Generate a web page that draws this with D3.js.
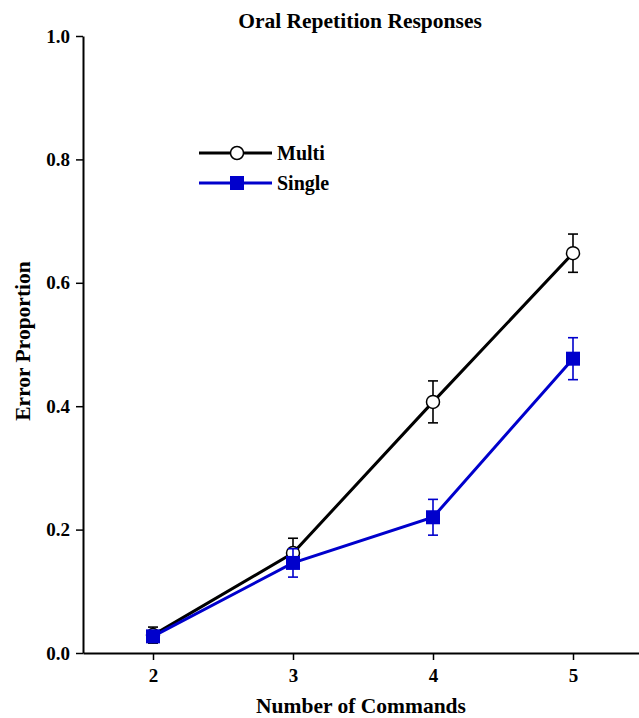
<!DOCTYPE html>
<html>
<head>
<meta charset="utf-8">
<script src="https://cdn.jsdelivr.net/npm/d3@7"></script>
<style>
  body { margin: 0; background: #fff; }
  svg text { font-family: "Liberation Serif", "Times New Roman", serif; font-weight: bold; fill: #000; }
</style>
</head>
<body>
<div id="chart"></div>
<script>
const commands = [2, 3, 4, 5];
const multiMean = [0.029, 0.162, 0.407, 0.648];
const multiErr = [0.013, 0.024, 0.034, 0.031];
const singleMean = [0.027, 0.146, 0.220, 0.477];
const singleErr = [0.008, 0.023, 0.029, 0.034];
const yTicks = [0.0, 0.2, 0.4, 0.6, 0.8, 1.0];

const color = { multi: '#000000', single: '#0000cc' };

const W = 639, H = 718;
const svg = d3.select('#chart').append('svg').attr('width', W).attr('height', H);

const x = d3.scaleLinear().domain([1.5, 5.5]).range([83, 643]);
const y = d3.scaleLinear().domain([0, 1]).range([653, 36]);

// axes
const xAxis = d3.axisBottom(x).tickValues(commands).tickFormat(d3.format('d')).tickSize(7).tickSizeOuter(0).tickPadding(9);
const yAxis = d3.axisLeft(y).tickValues(yTicks).tickFormat(d3.format('.1f')).tickSize(7).tickSizeOuter(0).tickPadding(6);

const xg = svg.append('g').attr('transform', `translate(0,${y(0)})`).call(xAxis);
const yg = svg.append('g').attr('transform', `translate(${x(1.5)},0)`).call(yAxis);
[xg, yg].forEach(g => {
  g.attr('font-size', null).attr('font-family', null);
  g.select('.domain').attr('stroke', '#000').attr('stroke-width', 2);
  g.selectAll('.tick line').attr('stroke', '#000').attr('stroke-width', 1.5);
  g.selectAll('.tick text').attr('fill', '#000').style('font-size', '19px');
});

// titles
svg.append('text').attr('x', 360).attr('y', 28).attr('text-anchor', 'middle')
  .style('font-size', '21.5px').text('Oral Repetition Responses');
svg.append('text').attr('x', 361).attr('y', 713).attr('text-anchor', 'middle')
  .style('font-size', '21.5px').text('Number of Commands');
svg.append('text').attr('transform', 'translate(30,341) rotate(-90)').attr('text-anchor', 'middle')
  .style('font-size', '21.5px').text('Error Proportion');

const line = d3.line().x(d => x(d.c)).y(d => y(d.m));

function drawSeries(means, errs, col, marker) {
  const data = commands.map((c, i) => ({ c, m: means[i], e: errs[i] }));
  const g = svg.append('g');
  // error bars
  const eb = g.selectAll('g.eb').data(data).join('g').attr('stroke', col).attr('stroke-width', 1.6);
  eb.append('line').attr('x1', d => x(d.c)).attr('x2', d => x(d.c)).attr('y1', d => y(d.m - d.e)).attr('y2', d => y(d.m + d.e));
  eb.append('line').attr('x1', d => x(d.c) - 5).attr('x2', d => x(d.c) + 5).attr('y1', d => y(d.m + d.e)).attr('y2', d => y(d.m + d.e));
  eb.append('line').attr('x1', d => x(d.c) - 5).attr('x2', d => x(d.c) + 5).attr('y1', d => y(d.m - d.e)).attr('y2', d => y(d.m - d.e));
  g.append('path').datum(data).attr('fill', 'none').attr('stroke', col).attr('stroke-width', 3).attr('d', line);
  if (marker === 'circle') {
    g.selectAll('circle').data(data).join('circle')
      .attr('cx', d => x(d.c)).attr('cy', d => y(d.m)).attr('r', 6.5)
      .attr('fill', '#fff').attr('stroke', col).attr('stroke-width', 1.5);
  } else {
    g.selectAll('rect').data(data).join('rect')
      .attr('x', d => x(d.c) - 7).attr('y', d => y(d.m) - 7).attr('width', 14).attr('height', 14)
      .attr('fill', col);
  }
}

drawSeries(multiMean, multiErr, color.multi, 'circle');
drawSeries(singleMean, singleErr, color.single, 'square');

// legend
const legend = [
  { name: 'Multi', col: color.multi, marker: 'circle', y: 153 },
  { name: 'Single', col: color.single, marker: 'square', y: 183 }
];
legend.forEach(l => {
  svg.append('line').attr('x1', 199).attr('x2', 272).attr('y1', l.y).attr('y2', l.y)
    .attr('stroke', l.col).attr('stroke-width', 3);
  if (l.marker === 'circle') {
    svg.append('circle').attr('cx', 237).attr('cy', l.y).attr('r', 6.5)
      .attr('fill', '#fff').attr('stroke', l.col).attr('stroke-width', 1.5);
  } else {
    svg.append('rect').attr('x', 230).attr('y', l.y - 7).attr('width', 14).attr('height', 14).attr('fill', l.col);
  }
  svg.append('text').attr('x', 277).attr('y', l.y + 7).style('font-size', '20px').text(l.name);
});
</script>
</body>
</html>
